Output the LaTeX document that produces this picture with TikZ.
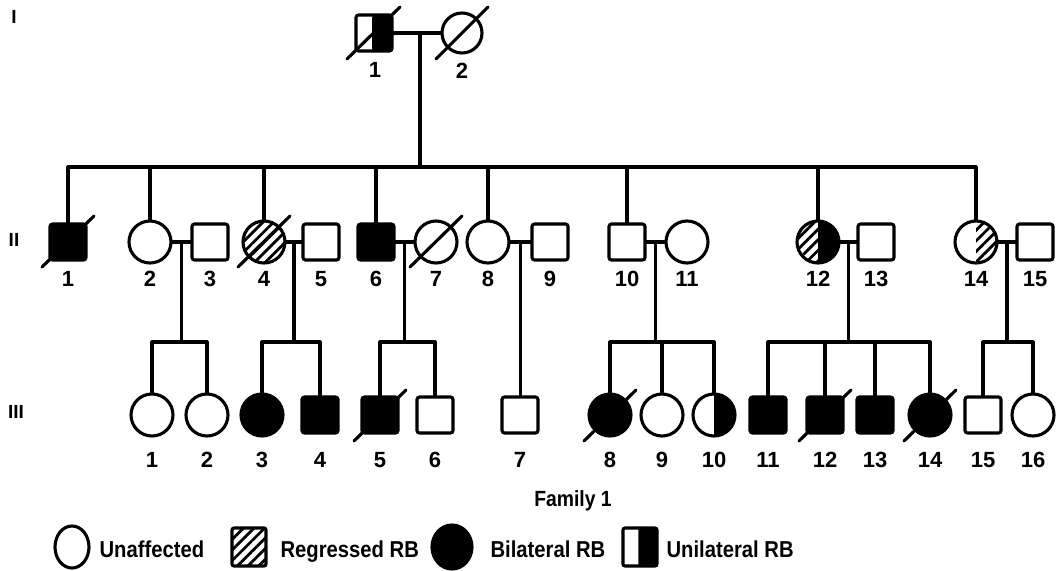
\documentclass[tikz,border=0pt]{standalone}
\usepackage{fontspec}
\setmainfont{Liberation Sans}
\newfontfamily\legfont{Liberation Sans}[FakeStretch=0.88]
\usetikzlibrary{patterns.meta,calc,shapes.geometric}
\begin{document}
\begin{tikzpicture}[x=1pt,y=-1pt,line width=3.1pt,line cap=round,
  sq/.style={draw,rectangle,rounded corners=2.5pt,minimum size=36pt,inner sep=0pt},
  ci/.style={draw,circle,minimum size=42pt,inner sep=0pt},
  aff/.style={fill=black},
  hatch/.style={pattern={Lines[angle=45,distance=7.5pt,line width=2.8pt]}},
  rblack/.style={path picture={\fill[black] (path picture bounding box.north) rectangle (path picture bounding box.south east);}},
  lhatchrblack/.style={path picture={\fill[hatch] (path picture bounding box.north west) rectangle (path picture bounding box.south);
     \fill[black] (path picture bounding box.north) rectangle (path picture bounding box.south east);}},
  rhatch/.style={path picture={\fill[hatch] (path picture bounding box.north) rectangle (path picture bounding box.south east);}},
  allhatch/.style={path picture={\fill[hatch] (path picture bounding box.north west) rectangle (path picture bounding box.south east);}},
  uni/.style={path picture={\fill[black] ($(path picture bounding box.north west)!0.45!(path picture bounding box.north east)$) rectangle (path picture bounding box.south east);}},
  SA/.style={sq,aff}, CA/.style={ci,aff}, CH/.style={ci,allhatch},
  CHB/.style={ci,lhatchrblack}, CRH/.style={ci,rhatch}, CRB/.style={ci,rblack},
  num/.style={font=\bfseries\fontsize{22}{22}\selectfont,inner sep=0pt},
  gen/.style={font=\bfseries\fontsize{19}{19}\selectfont,inner sep=0pt},
  leg/.style={font=\legfont\bfseries\fontsize{23}{23}\selectfont,inner sep=0pt,anchor=base west},
  slashline/.style={line width=3.1pt}]
\useasboundingbox (0,0) rectangle (1057,570);
% generation labels
\node[gen] (genI) at (14,17) {I};
\node[gen] (genII) at (14,240) {II};
\node[gen] (genIII) at (16,412) {III};
% generation I
\node[sq,uni] (a1) at (374,33) {};
\node[ci,minimum size=40pt] (a2) at (462,33) {};
\node[num] (la1) at (375,70) {1};
\node[num] (la2) at (462,71) {2};
\draw[slashline] ([shift={(-27,26)}]a1.center) -- ([shift={(26,-26)}]a1.center);
\draw[slashline] ([shift={(-26,26)}]a2.center) -- ([shift={(26,-26)}]a2.center);
\coordinate (mI) at (420,33);
\coordinate (sibL) at (68,167);
\coordinate (sibR) at (976,167);
\draw (a1) -- (a2);
\draw (mI) -- (mI |- sibL);
\draw (sibL) -- (sibR);
% generation II
\foreach \n/\x/\s in {1/68/SA,2/150/ci,3/210/sq,4/264/CH,5/321/sq,6/376/SA,7/436/ci,8/488/ci,9/550/sq,10/627/sq,11/687/ci,12/818/CHB,13/876/sq,14/976/CRH,15/1035/sq}{
  \node[\s] (b\n) at (\x,242) {};
  \node[num] (lb\n) at (\x,279) {\n};
}
\foreach \n in {1,4,7}{
  \draw[slashline] ([shift={(-26,25)}]b\n.center) -- ([shift={(26,-26)}]b\n.center);
}
\foreach \n in {1,2,4,6,8,10,12,14}{
  \draw (b\n.north) -- (b\n |- sibL);
}
\foreach \p/\q in {2/3,4/5,6/7,8/9,10/11,12/13,14/15}{
  \draw (b\p) -- (b\q);
  \coordinate (m\p) at ($(b\p.east)!0.5!(b\q.west)$);
}
% generation III
\foreach \n/\x/\s in {1/152/ci,2/207/ci,3/262/CA,4/320/SA,5/380/SA,6/435/sq,7/520/sq,8/610/CA,9/662/ci,10/714/CRB,11/768/SA,12/825/SA,13/875/SA,14/930/CA,15/983/sq,16/1033/ci}{
  \node[\s] (c\n) at (\x,415) {};
  \node[num] (lc\n) at (\x,460) {\n};
}
\foreach \n in {5,8,12,14}{
  \draw[slashline] ([shift={(-26,26)}]c\n.center) -- ([shift={(26,-25)}]c\n.center);
}
% sibships generation III
\coordinate (sy) at (0,342);
\foreach \m/\a/\b in {2/1/2,4/3/4,6/5/6,10/8/10,12/11/14,14/15/16}{
  \draw (m\m) -- (m\m |- sy);
  \draw (c\a |- sy) -- (c\b |- sy);
}
\foreach \n in {1,2,3,4,5,6,8,9,10,11,12,13,14,15,16}{
  \draw (c\n.north) -- (c\n |- sy);
}
\draw (m8) -- (m8 |- c7.north);
% legend
\node[font=\legfont\bfseries\fontsize{22}{22}\selectfont,inner sep=0pt,anchor=base] (fam) at (573,506) {Family 1};
\node[draw,ellipse,minimum width=34pt,minimum height=42pt,inner sep=0pt] (lgU) at (72,547) {};
\node[leg] (tU) at (98,557) {Unaffected};
\node[draw,rectangle,rounded corners=2pt,minimum width=34pt,minimum height=38pt,inner sep=0pt,allhatch] (lgR) at (249,547) {};
\node[leg] (tR) at (279,557) {Regressed RB};
\node[draw,ellipse,fill=black,minimum width=40pt,minimum height=44pt,inner sep=0pt] (lgB) at (452,547) {};
\node[leg] (tB) at (489,557) {Bilateral RB};
\node[draw,rectangle,rounded corners=2pt,minimum width=34pt,minimum height=38pt,inner sep=0pt,uni] (lgN) at (640,547) {};
\node[leg] (tN) at (665,557) {Unilateral RB};
\end{tikzpicture}
\end{document}
